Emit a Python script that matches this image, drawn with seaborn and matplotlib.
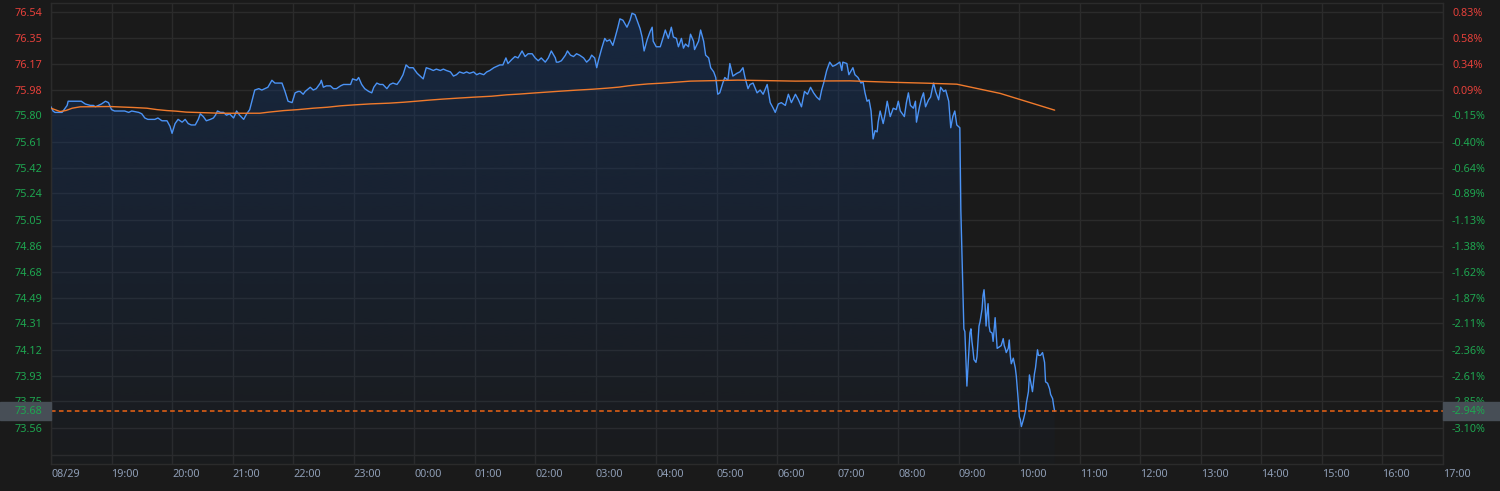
import numpy as np
import pandas as pd
import seaborn as sns
import matplotlib.pyplot as plt
from matplotlib.colors import to_rgb
from matplotlib.patches import Rectangle

# intraday price, minutes after 08/29 18:00
price_minutes = [
    0, 2, 4, 11, 12, 16, 17, 22, 27, 30,
    34, 39, 42, 44, 47, 50, 54, 57, 60, 63,
    73, 77, 80, 87, 90, 93, 96, 100, 103, 106,
    110, 115, 118, 120, 123, 126, 130, 133, 136, 139,
    143, 146, 148, 151, 154, 158, 161, 163, 165, 168,
    171, 174, 177, 181, 184, 187, 191, 194, 197, 201,
    202, 206, 209, 212, 215, 219, 222, 225, 229, 232,
    235, 239, 242, 245, 247, 250, 252, 257, 260, 263,
    267, 268, 270, 273, 277, 280, 283, 287, 290, 293,
    297, 299, 303, 305, 308, 311, 315, 318, 320, 323,
    326, 329, 333, 336, 339, 343, 346, 349, 352, 355,
    359, 363, 366, 369, 372, 376, 379, 382, 386, 389,
    392, 396, 399, 402, 405, 409, 412, 415, 419, 422,
    425, 429, 432, 435, 439, 442, 445, 448, 451, 453,
    457, 460, 463, 467, 470, 473, 477, 480, 483, 486,
    490, 493, 496, 500, 501, 503, 506, 510, 512, 515,
    518, 521, 524, 528, 531, 534, 536, 539, 541, 543,
    546, 549, 551, 554, 557, 559, 562, 564, 567, 571,
    574, 576, 579, 582, 584, 586, 588, 591, 594, 596,
    597, 600, 604, 607, 609, 612, 615, 617, 620, 622,
    625, 627, 629, 632, 634, 637, 638, 642, 644, 647,
    649, 652, 654, 657, 659, 661, 663, 666, 668, 671,
    673, 676, 680, 683, 686, 688, 691, 693, 696, 700,
    703, 706, 710, 713, 716, 718, 721, 724, 728, 731,
    734, 738, 741, 744, 747, 750, 753, 756, 759, 762,
    764, 766, 769, 772, 775, 778, 782, 784, 785, 789,
    791, 795, 797, 800, 803, 805, 807, 809, 811, 813,
    815, 817, 819, 820, 822, 825, 827, 829, 832, 835,
    838, 840, 842, 846, 848, 850, 852, 855, 857, 858,
    861, 863, 865, 867, 870, 872, 874, 875, 877, 880,
    882, 885, 887, 890, 892, 894, 896, 898, 901, 902,
    904, 905, 906, 907, 908, 909, 911, 912, 913, 914,
    915, 917, 918, 920, 921, 923, 924, 925, 926, 927,
    928, 929, 930, 931, 933, 934, 936, 937, 938, 940,
    942, 944, 945, 946, 947, 949, 950, 951, 952, 954,
    956, 957, 958, 959, 960, 961, 962, 964, 966, 967,
    969, 970, 971, 973, 975, 976, 978, 979, 981, 983,
    985, 986, 988, 990, 991, 993, 994, 995,
]
price_values = [
    75.86, 75.83, 75.82, 75.82, 75.83, 75.87, 75.90, 75.90, 75.90, 75.90,
    75.88, 75.87, 75.87, 75.86, 75.87, 75.88, 75.90, 75.89, 75.84, 75.83,
    75.83, 75.82, 75.83, 75.82, 75.81, 75.78, 75.77, 75.77, 75.77, 75.78,
    75.76, 75.76, 75.72, 75.67, 75.74, 75.77, 75.75, 75.77, 75.74, 75.73,
    75.73, 75.77, 75.81, 75.79, 75.76, 75.77, 75.78, 75.80, 75.83, 75.82,
    75.82, 75.80, 75.81, 75.78, 75.83, 75.80, 75.77, 75.81, 75.84, 75.95,
    75.98, 75.99, 75.98, 75.99, 76.00, 76.05, 76.03, 76.03, 76.03, 75.97,
    75.90, 75.89, 75.96, 75.97, 75.97, 75.95, 75.97, 76.00, 75.98, 75.99,
    76.03, 76.05, 76.00, 76.01, 76.01, 75.99, 75.99, 76.01, 76.02, 76.02,
    76.02, 76.06, 76.05, 76.07, 76.02, 75.99, 75.97, 75.96, 76.00, 76.03,
    76.02, 76.02, 75.99, 76.02, 76.03, 76.02, 76.05, 76.09, 76.16, 76.14,
    76.14, 76.10, 76.08, 76.06, 76.14, 76.13, 76.12, 76.13, 76.12, 76.13,
    76.12, 76.11, 76.08, 76.09, 76.11, 76.10, 76.11, 76.10, 76.11, 76.09,
    76.10, 76.09, 76.11, 76.12, 76.14, 76.15, 76.16, 76.16, 76.21, 76.17,
    76.20, 76.22, 76.21, 76.26, 76.22, 76.24, 76.24, 76.21, 76.19, 76.21,
    76.18, 76.21, 76.26, 76.21, 76.18, 76.18, 76.19, 76.23, 76.26, 76.23,
    76.22, 76.24, 76.23, 76.21, 76.18, 76.20, 76.23, 76.21, 76.14, 76.20,
    76.28, 76.35, 76.33, 76.34, 76.30, 76.35, 76.43, 76.49, 76.48, 76.43,
    76.48, 76.53, 76.52, 76.46, 76.42, 76.36, 76.26, 76.34, 76.40, 76.43,
    76.33, 76.29, 76.29, 76.36, 76.41, 76.35, 76.43, 76.36, 76.35, 76.29,
    76.35, 76.28, 76.31, 76.29, 76.38, 76.33, 76.27, 76.33, 76.41, 76.33,
    76.23, 76.21, 76.14, 76.11, 76.07, 75.95, 75.96, 76.03, 76.07, 76.05,
    76.17, 76.08, 76.10, 76.11, 76.14, 76.07, 75.99, 76.02, 76.03, 75.96,
    75.98, 75.95, 76.02, 75.89, 75.85, 75.82, 75.88, 75.89, 75.87, 75.95,
    75.89, 75.95, 75.91, 75.86, 75.97, 75.95, 76.00, 75.96, 75.93, 75.91,
    75.98, 76.03, 76.12, 76.18, 76.15, 76.16, 76.18, 76.12, 76.18, 76.17,
    76.09, 76.14, 76.09, 76.07, 76.03, 76.04, 75.96, 75.90, 75.91, 75.83,
    75.63, 75.69, 75.68, 75.75, 75.83, 75.74, 75.81, 75.90, 75.79, 75.85,
    75.84, 75.90, 75.83, 75.79, 75.89, 75.96, 75.87, 75.85, 75.90, 75.75,
    75.86, 75.92, 75.96, 75.86, 75.91, 75.93, 76.00, 76.03, 75.97, 75.91,
    76.00, 75.97, 75.98, 75.90, 75.71, 75.79, 75.83, 75.73, 75.71, 75.12,
    74.56, 74.27, 74.25, 74.05, 73.86, 73.99, 74.24, 74.27, 74.18, 74.12,
    74.05, 74.03, 74.07, 74.29, 74.32, 74.41, 74.51, 74.55, 74.45, 74.29,
    74.38, 74.45, 74.29, 74.25, 74.24, 74.18, 74.35, 74.24, 74.13, 74.14,
    74.15, 74.20, 74.15, 74.13, 74.10, 74.13, 74.19, 74.08, 74.02, 74.06,
    73.99, 73.93, 73.84, 73.75, 73.64, 73.62, 73.57, 73.62, 73.68, 73.74,
    73.82, 73.94, 73.90, 73.82, 73.95, 73.99, 74.12, 74.08, 74.08, 74.10,
    74.03, 73.89, 73.88, 73.84, 73.80, 73.77, 73.72, 73.68,
]

# average price line
avg_minutes = [
    0, 9, 15, 21, 29, 58, 82, 95, 105, 115, 124, 134, 168, 207, 216, 231,
    245, 260, 274, 287, 301, 317, 335, 350, 362, 375, 388, 403, 419, 437,
    452, 464, 477, 491, 505, 520, 537, 552, 563, 572, 581, 592, 605, 619,
    634, 681, 738, 792, 832, 869, 898, 941, 995,
]
avg_values = [
    75.850, 75.826, 75.834, 75.850, 75.860, 75.862, 75.855, 75.850, 75.840,
    75.833, 75.829, 75.822, 75.814, 75.814, 75.822, 75.833, 75.840, 75.850,
    75.857, 75.867, 75.874, 75.881, 75.886, 75.893, 75.900, 75.908, 75.915,
    75.922, 75.929, 75.936, 75.946, 75.951, 75.958, 75.965, 75.972, 75.979,
    75.986, 75.994, 76.001, 76.010, 76.017, 76.024, 76.029, 76.036, 76.044,
    76.051, 76.044, 76.046, 76.036, 76.029, 76.022, 75.956, 75.836,
]

y_tick_values = [76.54, 76.35, 76.17, 75.98, 75.80, 75.61, 75.42, 75.24, 75.05,
                 74.86, 74.68, 74.49, 74.31, 74.12, 73.93, 73.75, 73.56]
y_tick_pcts = ["0.83%", "0.58%", "0.34%", "0.09%", "-0.15%", "-0.40%", "-0.64%",
               "-0.89%", "-1.13%", "-1.38%", "-1.62%", "-1.87%", "-2.11%",
               "-2.36%", "-2.61%", "-2.85%", "-3.10%"]
x_tick_labels = ["08/29", "19:00", "20:00", "21:00", "22:00", "23:00", "00:00",
                 "01:00", "02:00", "03:00", "04:00", "05:00", "06:00", "07:00",
                 "08:00", "09:00", "10:00", "11:00", "12:00", "13:00", "14:00",
                 "15:00", "16:00", "17:00"]
last_price = 73.68
last_pct = "-2.94%"

BG = "#1a1a1a"
GRID = "#2b2b2b"
UP = "#e5403a"
DOWN = "#1ea650"
BLUE = "#4b93f5"
ORANGE = "#f07a2c"
DASH = "#ee6414"
XLAB = "#8e9db5"
BOX = "#474e56"

sns.set_theme(style="dark", rc={"axes.facecolor": BG, "figure.facecolor": BG})
plt.rcParams["font.family"] = ["Noto Sans", "DejaVu Sans"]
FS = 7.8

df = pd.DataFrame({"minute": price_minutes, "price": price_values})
avg = pd.DataFrame({"minute": avg_minutes, "price": avg_values})

W, H = 1500, 491
fig = plt.figure(figsize=(W / 100, H / 100), dpi=100)
left, right, top, bottom = 51, 1443, 2.5, 464
ax = fig.add_axes([left / W, 1 - bottom / H, (right - left) / W, (bottom - top) / H])
ax.set_facecolor(BG)

ylo, yhi = 73.302, 76.607
xlo, xhi = 0, 23 * 60

# gradient fill under the price line
poly = ax.fill_between(df["minute"], df["price"], ylo, color="none", lw=0)
clip = poly.get_paths()[0]
n = 256
alpha = np.linspace(0.45, 0.04, n)
rgba = np.zeros((n, 1, 4))
rgba[..., :3] = to_rgb("#14386f")
rgba[..., 3] = alpha[:, None]
im = ax.imshow(rgba, extent=[df["minute"].min(), df["minute"].max(), ylo, df["price"].max()],
               origin="upper", aspect="auto", zorder=1, interpolation="bilinear")
im.set_clip_path(clip, ax.transData)

sns.lineplot(data=df, x="minute", y="price", ax=ax, color=BLUE, lw=1.0,
             estimator=None, sort=False, zorder=3)
sns.lineplot(data=avg, x="minute", y="price", ax=ax, color=ORANGE, lw=1.0,
             estimator=None, sort=False, zorder=3)
ax.axhline(last_price, color=DASH, lw=1.1, ls=(0, (3, 2.2)), zorder=4)

ax.set_xlim(xlo, xhi)
ax.set_ylim(ylo, yhi)
ax.set_xlabel("")
ax.set_ylabel("")

grid_extra = 73.37
ax.set_yticks(y_tick_values + [grid_extra],
              labels=[f"{v:.2f}" for v in y_tick_values] + [""])
ax.set_xticks(range(0, xhi + 1, 60), labels=x_tick_labels)
ax.grid(True, color=GRID, lw=1.0)
ax.tick_params(axis="y", length=0, pad=6.5, labelsize=FS)
ax.tick_params(axis="x", length=0, pad=3.5, labelsize=FS, colors=XLAB)
for lbl, pct in zip(ax.get_yticklabels(), y_tick_pcts + ["-"]):
    lbl.set_color(DOWN if pct.startswith("-") else UP)
for lbl in ax.get_xticklabels():
    lbl.set_horizontalalignment("left")
for sp in ax.spines.values():
    sp.set_color(GRID)
    sp.set_linewidth(1.0)
    sp.set_visible(True)

ax2 = ax.twinx()
ax2.set_ylim(ylo, yhi)
ax2.set_yticks(y_tick_values, labels=y_tick_pcts)
ax2.tick_params(axis="y", length=0, pad=6.5, labelsize=FS)
for lbl, pct in zip(ax2.get_yticklabels(), y_tick_pcts):
    lbl.set_color(DOWN if pct.startswith("-") else UP)
ax2.grid(False)
for sp in ax2.spines.values():
    sp.set_visible(False)

# last price markers on both axes
box_h = 18 / H
y_last = ax.transData.transform((0, last_price))[1] / H
fig.patches.append(Rectangle((0, y_last - box_h / 2), left / W, box_h,
                             transform=fig.transFigure, color=BOX, zorder=5))
fig.patches.append(Rectangle((right / W, y_last - box_h / 2), (W - right) / W, box_h,
                             transform=fig.transFigure, color=BOX, zorder=5))
fig.text((left - 9) / W, y_last, f"{last_price:.2f}", color=DOWN, fontsize=FS,
         ha="right", va="center", zorder=6)
fig.text((right + 9) / W, y_last, last_pct, color=DOWN, fontsize=FS,
         ha="left", va="center", zorder=6)

fig.savefig("out.png", dpi=100, facecolor=BG)
